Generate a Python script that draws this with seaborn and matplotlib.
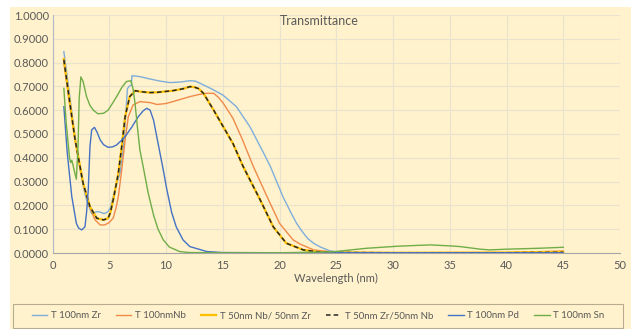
import matplotlib
matplotlib.use('Agg')
import matplotlib.pyplot as plt
import matplotlib.patches as mpatches
from matplotlib.ticker import FormatStrFormatter, MultipleLocator
import seaborn as sns
import pandas as pd

# Datos
wl_zr = [1.0, 1.3, 1.6, 2.0, 2.5, 2.9, 3.15, 3.3, 3.45, 3.7, 3.9, 4.2, 4.5, 4.7, 4.9, 5.1, 5.35,
         5.65, 5.95, 6.25, 6.45, 6.6, 6.75, 6.95, 7.0, 7.7, 8.6, 9.5, 10.35, 11.2, 12.1, 12.6, 13.0,
         14.0, 15.0, 16.2, 17.4, 18.0, 18.6, 19.2, 20.3, 21.0, 21.5, 22.0, 22.5, 23.0, 23.6, 24.4,
         25.0, 26.0, 30.0, 45.0]
t_zr = [0.846, 0.74, 0.63, 0.48, 0.33, 0.24, 0.20, 0.185, 0.165, 0.17, 0.174, 0.172, 0.166, 0.168,
        0.175, 0.19, 0.237, 0.29, 0.336, 0.447, 0.58, 0.69, 0.70, 0.705, 0.745, 0.741, 0.731, 0.722,
        0.716, 0.718, 0.724, 0.722, 0.713, 0.69, 0.664, 0.615, 0.53, 0.475, 0.42, 0.363, 0.237, 0.17,
        0.125, 0.09, 0.06, 0.041, 0.025, 0.01, 0.005, 0.002, 0.001, 0.001]

wl_nb = [1.0, 1.5, 2.0, 2.7, 3.3, 3.75, 4.2, 4.6, 5.0, 5.35, 5.6, 5.8, 6.1, 6.4, 6.68, 7.1, 7.7,
         8.6, 9.2, 10.0, 10.6, 12.1, 13.0, 13.6, 14.2, 14.6, 15.05, 15.9, 16.7, 17.7, 18.9, 20.0,
         21.2, 21.8, 23.0, 23.6, 25.0, 30.0, 40.0, 45.0]
t_nb = [0.80, 0.63, 0.47, 0.29, 0.19, 0.139, 0.118, 0.118, 0.128, 0.147, 0.19, 0.237, 0.349, 0.475,
        0.573, 0.622, 0.636, 0.632, 0.624, 0.628, 0.636, 0.657, 0.667, 0.671, 0.671, 0.655, 0.629,
        0.566, 0.48, 0.363, 0.237, 0.125, 0.055, 0.038, 0.013, 0.01, 0.003, 0.001, 0.002, 0.008]

wl_nbzr = [1.0, 1.5, 2.0, 2.7, 3.3, 3.9, 4.5, 4.9, 5.1, 5.35, 5.8, 6.1, 6.4, 6.8, 7.3, 7.7, 8.6,
           9.2, 10.6, 11.5, 12.1, 12.5, 12.9, 13.3, 14.2, 15.05, 15.9, 16.8, 18.3, 19.45, 20.6,
           22.1, 23.5, 25.0, 30.0, 40.0, 45.0]
t_nbzr = [0.815, 0.64, 0.475, 0.293, 0.195, 0.146, 0.139, 0.146, 0.17, 0.223, 0.335, 0.447, 0.573,
          0.657, 0.682, 0.678, 0.674, 0.675, 0.682, 0.69, 0.699, 0.697, 0.69, 0.671, 0.60, 0.53,
          0.46, 0.363, 0.223, 0.11, 0.041, 0.013, 0.004, 0.002, 0.001, 0.002, 0.005]
t_zrnb = [0.812, 0.64, 0.474, 0.292, 0.195, 0.146, 0.139, 0.146, 0.17, 0.223, 0.335, 0.447, 0.573,
          0.657, 0.682, 0.678, 0.674, 0.675, 0.682, 0.69, 0.699, 0.697, 0.69, 0.671, 0.60, 0.53,
          0.46, 0.363, 0.223, 0.11, 0.041, 0.013, 0.004, 0.002, 0.001, 0.001, 0.003]

wl_pd = [1.0, 1.3, 1.7, 2.1, 2.3, 2.57, 2.86, 3.0, 3.15, 3.3, 3.45, 3.7, 3.95, 4.2, 4.5, 4.9, 5.3,
         5.65, 6.0, 6.4, 7.0, 7.56, 8.0, 8.3, 8.6, 8.9, 9.3, 9.76, 10.06, 10.5, 10.9, 11.5, 12.1,
         13.6, 15.0, 20.0, 45.0]
t_pd = [0.615, 0.42, 0.237, 0.125, 0.105, 0.097, 0.11, 0.17, 0.265, 0.447, 0.517, 0.528, 0.505,
        0.475, 0.455, 0.444, 0.446, 0.454, 0.47, 0.489, 0.53, 0.573, 0.598, 0.608, 0.60, 0.559,
        0.461, 0.349, 0.27, 0.17, 0.11, 0.055, 0.027, 0.006, 0.002, 0.001, 0.001]

wl_sn = [1.0, 1.2, 1.5, 1.6, 1.7, 1.8, 2.1, 2.25, 2.35, 2.5, 2.7, 3.0, 3.3, 3.6, 4.0, 4.5, 4.9,
         5.3, 5.65, 6.1, 6.5, 6.9, 7.1, 7.27, 7.5, 7.7, 8.0, 8.44, 8.9, 9.3, 9.76, 10.3, 11.2, 12.0,
         15.0, 20.0, 24.7, 27.7, 30.6, 33.3, 35.0, 35.9, 37.7, 38.5, 40.0, 42.9, 45.0]
t_sn = [0.692, 0.55, 0.40, 0.38, 0.39, 0.37, 0.31, 0.45, 0.65, 0.74, 0.72, 0.657, 0.62, 0.60, 0.585,
        0.587, 0.60, 0.63, 0.657, 0.695, 0.72, 0.724, 0.69, 0.629, 0.52, 0.433, 0.36, 0.25, 0.16,
        0.10, 0.055, 0.025, 0.006, 0.002, 0.001, 0.001, 0.005, 0.02, 0.029, 0.034, 0.03, 0.027,
        0.016, 0.013, 0.016, 0.02, 0.024]

series_names = ['T 100nm Zr', 'T 100nmNb', 'T 50nm Nb/ 50nm Zr', 'T 50nm Zr/50nm Nb',
                'T 100nm Pd', 'T 100nm Sn']

plt.rcParams['font.family'] = ['Lato', 'DejaVu Sans']

fig = plt.figure(figsize=(6.31, 3.29), dpi=100)
fig.patches.append(mpatches.Rectangle((10 / 631, 0), 1, 1 - 7 / 329, transform=fig.transFigure,
                                      facecolor='#FFF2CC', edgecolor='none', zorder=-10))
ax = fig.add_axes([52.5 / 631, 1 - 253 / 329, 567.5 / 631, 238 / 329])
ax.set_facecolor('#FFF2CC')

series = [
    (wl_zr, t_zr, '#7FAEDB', '-', 1.0),
    (wl_nb, t_nb, '#F08A4B', '-', 1.0),
    (wl_nbzr, t_nbzr, '#FFC000', '-', 1.6),
    (wl_nbzr, t_zrnb, '#262626', (0, (3, 2)), 1.1),
    (wl_pd, t_pd, '#4472C4', '-', 1.0),
    (wl_sn, t_sn, '#70AD47', '-', 1.0),
]
for name, (x, y, c, ls, lw) in zip(series_names, series):
    df = pd.DataFrame({'wl': x, 't': y})
    sns.lineplot(data=df, x='wl', y='t', ax=ax, color=c, linestyle=ls, linewidth=lw,
                 estimator=None, sort=False, label=name)

ax.set_xlim(0, 50)
ax.set_ylim(0, 1)
ax.xaxis.set_major_locator(MultipleLocator(5))
ax.yaxis.set_major_locator(MultipleLocator(0.1))
ax.yaxis.set_major_formatter(FormatStrFormatter('%.4f'))
ax.grid(True, color='#E9E2CF', linewidth=0.8)
ax.set_axisbelow(True)
ax.tick_params(length=0, labelsize=8, labelcolor='#595959')
ax.tick_params(axis='y', pad=2.5)
ax.tick_params(axis='x', pad=5)
for s in ['top', 'right']:
    ax.spines[s].set_visible(False)
ax.spines['left'].set_color('#AEB8CA')
ax.spines['bottom'].set_color('#A6A6A6')
ax.spines['left'].set_linewidth(0.8)
ax.spines['bottom'].set_linewidth(0.8)

ax.set_ylabel('')
ax.set_xlabel('Wavelength (nm)', fontsize=8, color='#595959')
ax.xaxis.label.set_va('center')
ax.xaxis.set_label_coords(0.5, -0.105)
ax.text(0.471, 0.975, 'Transmittance', transform=ax.transAxes, ha='center', va='center',
        fontsize=9, color='#595959')

ax.get_legend().remove()
handles, labels = ax.get_legend_handles_labels()
leg = fig.legend(handles, labels, loc='center', ncol=6,
                 bbox_to_anchor=(13 / 631, 1 / 329, 610 / 631, 24 / 329), fontsize=7,
                 handlelength=1.6, handletextpad=0.35, columnspacing=1.55, borderaxespad=0,
                 fancybox=False, frameon=False, labelcolor='#595959')
fig.patches.append(mpatches.Rectangle((13 / 631, 1 / 329), 610 / 631, 24 / 329,
                                      transform=fig.transFigure, facecolor='#FFF2CC',
                                      edgecolor='#B7AC8E', linewidth=0.8, zorder=-5))

fig.savefig('out.png', dpi=100)
